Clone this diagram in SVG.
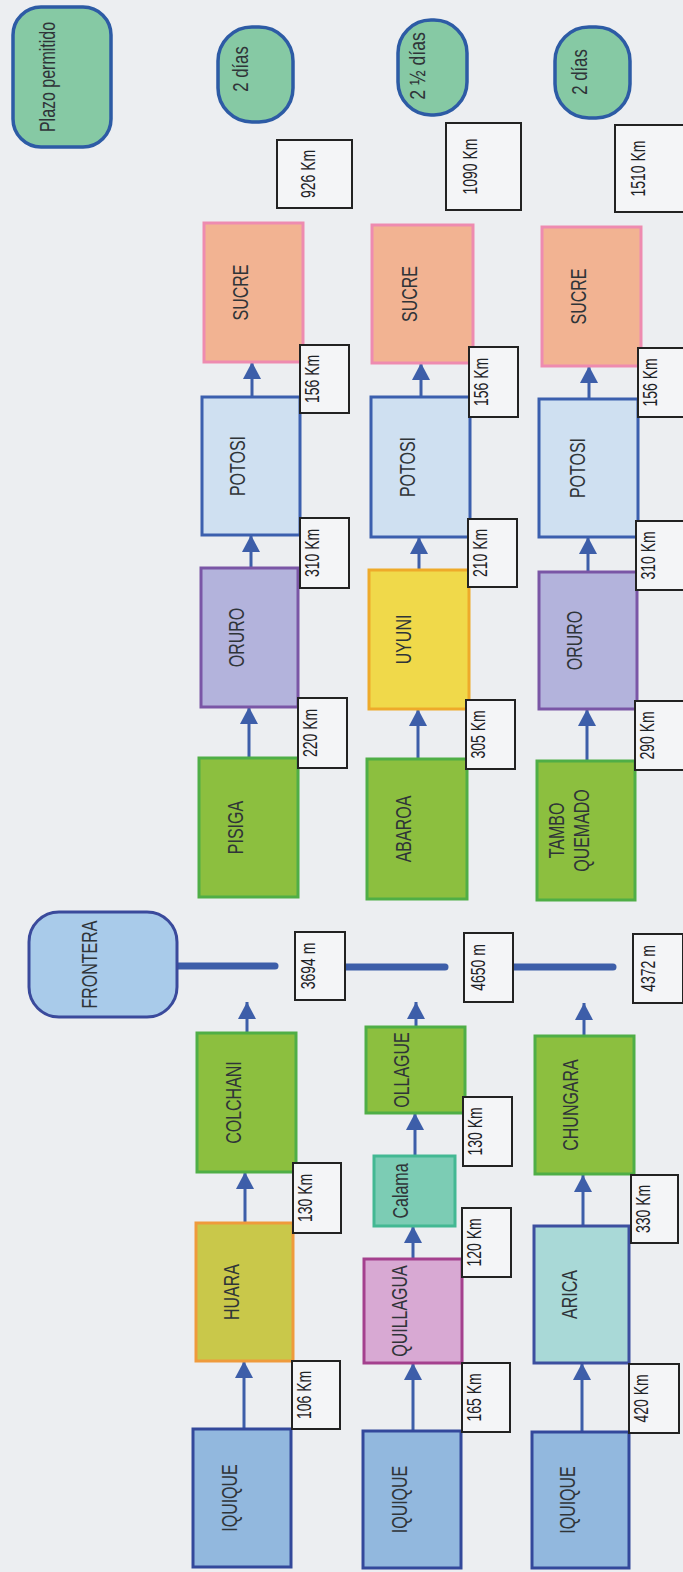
<svg xmlns="http://www.w3.org/2000/svg" width="683" height="1572" viewBox="0 0 683 1572">
  <defs>
    <style>
      .bg { fill: #eceef1; }
      .node { stroke-width: 3; }
      .pill { fill: #86c9a4; stroke: #2d5ba5; stroke-width: 3.5; }
      .sucre { fill: #f2b392; stroke: #ee8bb0; }
      .potosi { fill: #cfe0f1; stroke: #3b5fae; }
      .oruro { fill: #b3b3dc; stroke: #7a56a6; }
      .green { fill: #8cbf3f; stroke: #4fae46; }
      .huara { fill: #c9c84a; stroke: #ef9a3c; }
      .uyuni { fill: #f0d94a; stroke: #eeaa2a; }
      .iquique { fill: #92b8de; stroke: #33489b; }
      .frontera { fill: #a9cbea; stroke: #3a4a9c; }
      .calama { fill: #7cccb4; stroke: #43b893; }
      .quillagua { fill: #d8a9d3; stroke: #a4408e; }
      .arica { fill: #a9d9d7; stroke: #3c4f9f; }
      .dist { fill: #f4f5f7; stroke: #222; stroke-width: 2; }
      .lbl { font-family: "Liberation Sans", Arial, sans-serif; font-size: 22px; fill: #2f3438; text-anchor: middle; }
      .km { font-family: "Liberation Sans", Arial, sans-serif; font-size: 20px; fill: #1e2226; text-anchor: middle; }
      .arrow { stroke: #3d5ea9; stroke-width: 3; fill: none; marker-end: url(#head); }
      .border-line { stroke: #3d5ea9; stroke-width: 7; stroke-linecap: round; }
    </style>
    <marker id="head" markerUnits="userSpaceOnUse" markerWidth="18" markerHeight="18" refX="17" refY="9" orient="auto">
      <path d="M0,0 L17,9 L0,18 Z" fill="#3d5ea9"/>
    </marker>
  </defs>

  <rect class="bg" x="0" y="0" width="683" height="1572"/>

  <!-- connectors -->
  <g id="connectors">
    <line class="border-line" x1="172" y1="966" x2="275" y2="966"/>
    <line class="border-line" x1="340" y1="967" x2="445" y2="967"/>
    <line class="border-line" x1="509" y1="967" x2="613" y2="967"/>

    <line class="arrow" x1="244" y1="1429" x2="244" y2="1361"/>
    <line class="arrow" x1="245" y1="1223" x2="245" y2="1172"/>
    <line class="arrow" x1="247" y1="1033" x2="247" y2="1002"/>
    <line class="arrow" x1="249" y1="758" x2="249" y2="707"/>
    <line class="arrow" x1="251" y1="568" x2="251" y2="535"/>
    <line class="arrow" x1="252" y1="397" x2="252" y2="362"/>

    <line class="arrow" x1="413" y1="1431" x2="413" y2="1363"/>
    <line class="arrow" x1="413" y1="1259" x2="413" y2="1226"/>
    <line class="arrow" x1="415" y1="1156" x2="415" y2="1113"/>
    <line class="arrow" x1="416" y1="1027" x2="416" y2="1002"/>
    <line class="arrow" x1="418" y1="759" x2="418" y2="709"/>
    <line class="arrow" x1="419" y1="570" x2="419" y2="537"/>
    <line class="arrow" x1="421" y1="397" x2="421" y2="363"/>

    <line class="arrow" x1="582" y1="1432" x2="582" y2="1363"/>
    <line class="arrow" x1="583" y1="1226" x2="583" y2="1175"/>
    <line class="arrow" x1="584" y1="1036" x2="584" y2="1003"/>
    <line class="arrow" x1="587" y1="761" x2="587" y2="709"/>
    <line class="arrow" x1="588" y1="572" x2="588" y2="537"/>
    <line class="arrow" x1="589" y1="399" x2="589" y2="366"/>
  </g>

  <!-- legend and time limits -->
  <g id="plazo">
    <rect class="pill" x="13" y="7" width="98" height="140" rx="28"/>
    <text class="lbl" transform="translate(55,77) rotate(-90) scale(0.727,1)">Plazo permitido</text>
  </g>
  <g id="plazo-ruta1">
    <rect class="pill" x="218" y="27" width="75" height="95" rx="34"/>
    <text class="lbl" transform="translate(248,69) rotate(-90) scale(0.76,1)">2 días</text>
  </g>
  <g id="plazo-ruta2">
    <rect class="pill" x="398" y="20" width="69" height="95" rx="33"/>
    <text class="lbl" transform="translate(425,66) rotate(-90) scale(0.8,1)">2 ½ días</text>
  </g>
  <g id="plazo-ruta3">
    <rect class="pill" x="555" y="27" width="75" height="91" rx="34"/>
    <text class="lbl" transform="translate(587,72) rotate(-90) scale(0.76,1)">2 días</text>
  </g>

  <g id="frontera">
    <rect class="node frontera" x="29" y="912" width="148" height="105" rx="30"/>
    <text class="lbl" transform="translate(97,964.5) rotate(-90) scale(0.727,1)">FRONTERA</text>
  </g>

  <!-- route 1: Iquique - Colchani / Pisiga - Sucre -->
  <g id="r1-sucre">
    <rect class="node sucre" x="204" y="223" width="99" height="139"/>
    <text class="lbl" transform="translate(247.5,292.5) rotate(-90) scale(0.727,1)">SUCRE</text>
  </g>
  <g id="r1-potosi">
    <rect class="node potosi" x="202" y="397" width="98" height="138"/>
    <text class="lbl" transform="translate(245,466) rotate(-90) scale(0.727,1)">POTOSI</text>
  </g>
  <g id="r1-oruro">
    <rect class="node oruro" x="201" y="568" width="97" height="139"/>
    <text class="lbl" transform="translate(243.5,637.5) rotate(-90) scale(0.727,1)">ORURO</text>
  </g>
  <g id="r1-pisiga">
    <rect class="node green" x="199" y="758" width="99" height="139"/>
    <text class="lbl" transform="translate(242.5,827.5) rotate(-90) scale(0.727,1)">PISIGA</text>
  </g>
  <g id="r1-colchani">
    <rect class="node green" x="197" y="1033" width="99" height="139"/>
    <text class="lbl" transform="translate(240.5,1102.5) rotate(-90) scale(0.727,1)">COLCHANI</text>
  </g>
  <g id="r1-huara">
    <rect class="node huara" x="196" y="1223" width="97" height="138"/>
    <text class="lbl" transform="translate(238.5,1292) rotate(-90) scale(0.727,1)">HUARA</text>
  </g>
  <g id="r1-iquique">
    <rect class="node iquique" x="193" y="1429" width="98" height="138"/>
    <text class="lbl" transform="translate(237,1498) rotate(-90) scale(0.727,1)">IQUIQUE</text>
  </g>

  <g id="r1-total"><rect class="dist" x="277" y="140" width="75" height="68"/><text class="km" transform="translate(315,174) rotate(-90) scale(0.7,1)">926 Km</text></g>
  <g id="r1-d-potosi-sucre"><rect class="dist" x="300" y="345" width="49" height="68"/><text class="km" transform="translate(319,379) rotate(-90) scale(0.7,1)">156 Km</text></g>
  <g id="r1-d-oruro-potosi"><rect class="dist" x="300" y="518" width="49" height="70"/><text class="km" transform="translate(319,553) rotate(-90) scale(0.7,1)">310 Km</text></g>
  <g id="r1-d-pisiga-oruro"><rect class="dist" x="298" y="698" width="49" height="70"/><text class="km" transform="translate(317,733) rotate(-90) scale(0.7,1)">220 Km</text></g>
  <g id="r1-altura"><rect class="dist" x="295" y="932" width="50" height="68"/><text class="km" transform="translate(315,966) rotate(-90) scale(0.7,1)">3694 m</text></g>
  <g id="r1-d-huara-colchani"><rect class="dist" x="293" y="1163" width="48" height="70"/><text class="km" transform="translate(312,1198) rotate(-90) scale(0.7,1)">130 Km</text></g>
  <g id="r1-d-iquique-huara"><rect class="dist" x="292" y="1361" width="48" height="68"/><text class="km" transform="translate(311,1395) rotate(-90) scale(0.7,1)">106 Km</text></g>

  <!-- route 2: Iquique - Ollague / Abaroa - Sucre -->
  <g id="r2-sucre">
    <rect class="node sucre" x="372" y="225" width="101" height="138"/>
    <text class="lbl" transform="translate(416.5,294) rotate(-90) scale(0.727,1)">SUCRE</text>
  </g>
  <g id="r2-potosi">
    <rect class="node potosi" x="371" y="397" width="99" height="140"/>
    <text class="lbl" transform="translate(414.5,467) rotate(-90) scale(0.727,1)">POTOSI</text>
  </g>
  <g id="r2-uyuni">
    <rect class="node uyuni" x="369" y="570" width="100" height="139"/>
    <text class="lbl" transform="translate(411,639.5) rotate(-90) scale(0.727,1)">UYUNI</text>
  </g>
  <g id="r2-abaroa">
    <rect class="node green" x="367" y="759" width="100" height="140"/>
    <text class="lbl" transform="translate(411,829) rotate(-90) scale(0.727,1)">ABAROA</text>
  </g>
  <g id="r2-ollague">
    <rect class="node green" x="366" y="1027" width="99" height="86"/>
    <text class="lbl" transform="translate(409,1070) rotate(-90) scale(0.727,1)">OLLAGUE</text>
  </g>
  <g id="r2-calama">
    <rect class="node calama" x="374" y="1156" width="81" height="70"/>
    <text class="lbl" transform="translate(408,1191) rotate(-90) scale(0.727,1)">Calama</text>
  </g>
  <g id="r2-quillagua">
    <rect class="node quillagua" x="364" y="1259" width="98" height="104"/>
    <text class="lbl" transform="translate(407,1311) rotate(-90) scale(0.727,1)">QUILLAGUA</text>
  </g>
  <g id="r2-iquique">
    <rect class="node iquique" x="363" y="1431" width="98" height="137"/>
    <text class="lbl" transform="translate(407,1499.5) rotate(-90) scale(0.727,1)">IQUIQUE</text>
  </g>

  <g id="r2-total"><rect class="dist" x="446" y="123" width="75" height="87"/><text class="km" transform="translate(477,166.5) rotate(-90) scale(0.7,1)">1090 Km</text></g>
  <g id="r2-d-potosi-sucre"><rect class="dist" x="469" y="347" width="49" height="70"/><text class="km" transform="translate(488,382) rotate(-90) scale(0.7,1)">156 Km</text></g>
  <g id="r2-d-uyuni-potosi"><rect class="dist" x="468" y="519" width="49" height="68"/><text class="km" transform="translate(487,553) rotate(-90) scale(0.7,1)">210 Km</text></g>
  <g id="r2-d-abaroa-uyuni"><rect class="dist" x="466" y="700" width="49" height="69"/><text class="km" transform="translate(485,734.5) rotate(-90) scale(0.7,1)">305 Km</text></g>
  <g id="r2-altura"><rect class="dist" x="464" y="933" width="49" height="69"/><text class="km" transform="translate(485,967.5) rotate(-90) scale(0.7,1)">4650 m</text></g>
  <g id="r2-d-calama-ollague"><rect class="dist" x="463" y="1097" width="49" height="69"/><text class="km" transform="translate(482,1131.5) rotate(-90) scale(0.7,1)">130 Km</text></g>
  <g id="r2-d-quillagua-calama"><rect class="dist" x="462" y="1208" width="49" height="69"/><text class="km" transform="translate(481,1242.5) rotate(-90) scale(0.7,1)">120 Km</text></g>
  <g id="r2-d-iquique-quillagua"><rect class="dist" x="462" y="1363" width="48" height="69"/><text class="km" transform="translate(481,1397.5) rotate(-90) scale(0.7,1)">165 Km</text></g>

  <!-- route 3: Iquique - Chungara / Tambo Quemado - Sucre -->
  <g id="r3-sucre">
    <rect class="node sucre" x="542" y="227" width="99" height="139"/>
    <text class="lbl" transform="translate(585.5,296.5) rotate(-90) scale(0.727,1)">SUCRE</text>
  </g>
  <g id="r3-potosi">
    <rect class="node potosi" x="539" y="399" width="99" height="138"/>
    <text class="lbl" transform="translate(585,468) rotate(-90) scale(0.727,1)">POTOSI</text>
  </g>
  <g id="r3-oruro">
    <rect class="node oruro" x="539" y="572" width="98" height="137"/>
    <text class="lbl" transform="translate(582,640.5) rotate(-90) scale(0.727,1)">ORURO</text>
  </g>
  <g id="r3-tambo-quemado">
    <rect class="node green" x="537" y="761" width="98" height="139"/>
    <text class="lbl" transform="translate(564,830.5) rotate(-90) scale(0.727,1)">TAMBO</text>
    <text class="lbl" transform="translate(589,830.5) rotate(-90) scale(0.727,1)">QUEMADO</text>
  </g>
  <g id="r3-chungara">
    <rect class="node green" x="535" y="1036" width="99" height="138"/>
    <text class="lbl" transform="translate(578,1105) rotate(-90) scale(0.727,1)">CHUNGARA</text>
  </g>
  <g id="r3-arica">
    <rect class="node arica" x="534" y="1226" width="95" height="137"/>
    <text class="lbl" transform="translate(577,1294.5) rotate(-90) scale(0.727,1)">ARICA</text>
  </g>
  <g id="r3-iquique">
    <rect class="node iquique" x="532" y="1432" width="97" height="136"/>
    <text class="lbl" transform="translate(575,1500) rotate(-90) scale(0.727,1)">IQUIQUE</text>
  </g>

  <g id="r3-total"><rect class="dist" x="615" y="125" width="75" height="87"/><text class="km" transform="translate(645,168.5) rotate(-90) scale(0.7,1)">1510 Km</text></g>
  <g id="r3-d-potosi-sucre"><rect class="dist" x="638" y="348" width="49" height="69"/><text class="km" transform="translate(657,382.5) rotate(-90) scale(0.7,1)">156 Km</text></g>
  <g id="r3-d-oruro-potosi"><rect class="dist" x="636" y="521" width="49" height="69"/><text class="km" transform="translate(655,555.5) rotate(-90) scale(0.7,1)">310 Km</text></g>
  <g id="r3-d-tambo-oruro"><rect class="dist" x="635" y="701" width="49" height="69"/><text class="km" transform="translate(654,735.5) rotate(-90) scale(0.7,1)">290 Km</text></g>
  <g id="r3-altura"><rect class="dist" x="633" y="934" width="50" height="69"/><text class="km" transform="translate(655,968.5) rotate(-90) scale(0.7,1)">4372 m</text></g>
  <g id="r3-d-arica-chungara"><rect class="dist" x="631" y="1175" width="47" height="68"/><text class="km" transform="translate(650,1209) rotate(-90) scale(0.7,1)">330 Km</text></g>
  <g id="r3-d-iquique-arica"><rect class="dist" x="629" y="1364" width="50" height="69"/><text class="km" transform="translate(648,1398.5) rotate(-90) scale(0.7,1)">420 Km</text></g>
</svg>
